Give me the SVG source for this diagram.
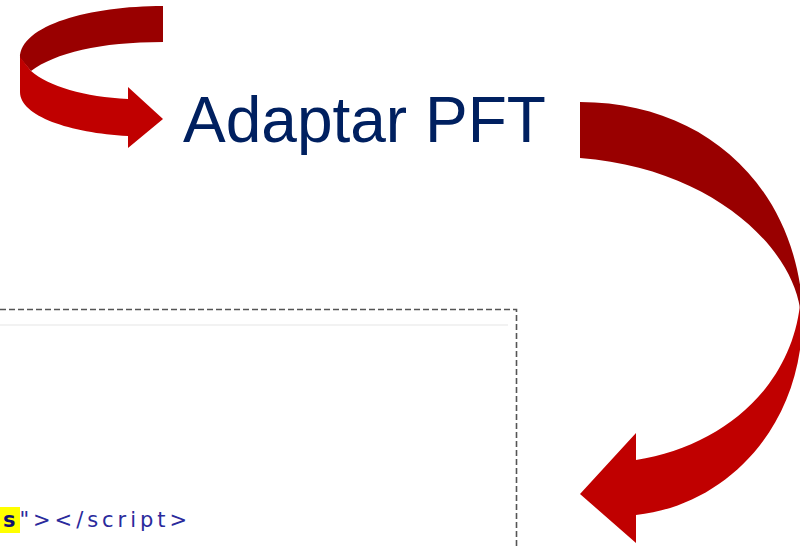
<svg xmlns="http://www.w3.org/2000/svg" width="800" height="546" viewBox="0 0 800 546">
<style>
.dark{fill:#990000}
.light{fill:#c00000}
.title{font-family:"Liberation Sans",Arial,sans-serif;font-size:64px;fill:#002060}
.code{font-family:"DejaVu Sans",Verdana,sans-serif;font-size:21px;fill:#2a2a9c}
.box{fill:none;stroke:#555;stroke-width:1.6;stroke-dasharray:6 3}
</style>
<rect width="800" height="546" fill="#fff"/>
<g id="code-box">
<line x1="0" y1="325" x2="508" y2="325" stroke="#eeeeee" stroke-width="1.5"/>
<path class="box" d="M0,309.5 H516.5 V546"/>
<rect x="0" y="507" width="20" height="26" fill="#ffff00"/>
<text class="code" x="3" y="527" textLength="184" lengthAdjust="spacing"><tspan font-weight="bold" fill="#101070">s</tspan>"&gt;&lt;/script&gt;</text>
</g>
<g id="arrow-loop">
<path class="dark" d="M163,6 L163,42 C100,42 55,53 31,71 L20,58 C20,25 90,6 163,6 Z"/>
<path class="light" d="M20,57 L31,71 C48,86 85,97 128,99 L128,87 L163,119 L128,148 L128,136 C70,133 20,116 20,92 Z"/>
</g>
<g id="title">
<text class="title" x="183" y="142">Adaptar PFT</text>
</g>
<g id="arrow-curve">
<path class="dark" d="M580,102 C700,102 790,180 802,300 L800,308 C790,245 710,168 580,158 Z"/>
<path class="light" d="M802,298 C810,420 730,505 636,515 L636,543 L580,494 L636,433 L636,460 C720,447 790,390 800,305 Z"/>
</g>
</svg>
